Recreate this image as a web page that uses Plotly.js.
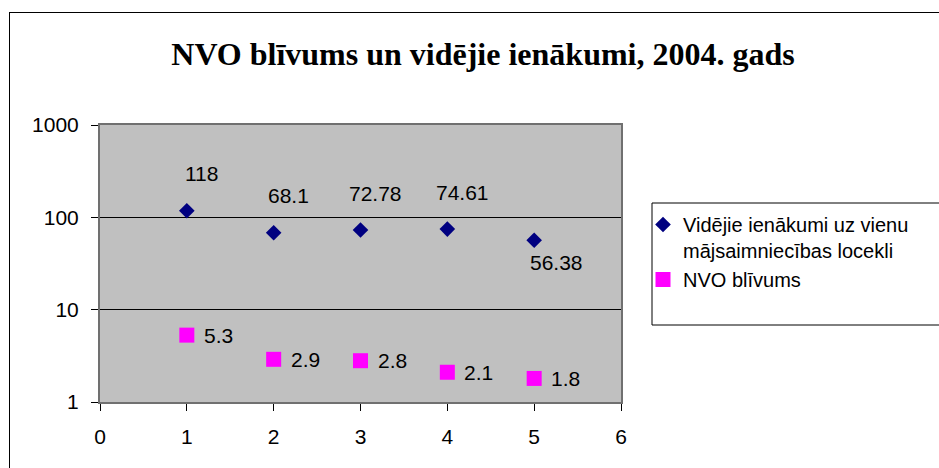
<!DOCTYPE html>
<html>
<head>
<meta charset="utf-8">
<script src="https://cdn.plot.ly/plotly-3.0.1.min.js"></script>
<style>
  html, body { margin: 0; padding: 0; background: #fff; overflow: hidden; }
  #chart { position: absolute; left: 0; top: 0; width: 939px; height: 468px; }
  #frame { position: absolute; left: 9px; top: 12px; width: 1000px; height: 1000px;
           border: 1px solid #000; pointer-events: none; }
</style>
</head>
<body>
<div id="chart"></div>
<div id="frame"></div>
<script>
// ---- data ----
const xValues = [1, 2, 3, 4, 5];
const incomeName = 'Vidējie ienākumi uz vienu<br>mājsaimniecības locekli';
const incomeValues = [118, 68.1, 72.78, 74.61, 56.38];
const ngoName = 'NVO blīvums';
const ngoValues = [5.3, 2.9, 2.8, 2.1, 1.8];
const xTicks = [0, 1, 2, 3, 4, 5, 6];
const yTicks = [1, 10, 100, 1000];
const yTickText = ['1', '10', '100', '1000'];
const chartTitle = 'NVO blīvums un vidējie ienākumi, 2004. gads';

const labelFont = { family: 'Liberation Sans, Arial, sans-serif', size: 21, color: '#000' };

const traces = [
  {
    type: 'scatter', mode: 'markers', name: incomeName,
    x: xValues, y: incomeValues,
    marker: { symbol: 'diamond', size: 12, color: '#000080' }
  },
  {
    type: 'scatter', mode: 'markers', name: ngoName,
    x: xValues, y: ngoValues,
    marker: { symbol: 'square', size: 15, color: '#FF00FF' }
  }
];

const annotations = [];
incomeValues.forEach((v, i) => {
  const below = i === incomeValues.length - 1;
  annotations.push({
    x: xValues[i], y: Math.log10(v), xref: 'x', yref: 'y',
    text: String(v), showarrow: false, font: labelFont,
    xanchor: 'center', yanchor: 'middle',
    xshift: below ? 22 : 15, yshift: below ? -22 : 37
  });
});
ngoValues.forEach((v, i) => {
  annotations.push({
    x: xValues[i], y: Math.log10(v), xref: 'x', yref: 'y',
    text: String(v), showarrow: false, font: labelFont,
    xanchor: 'left', yanchor: 'middle', xshift: 15, yshift: 0
  });
});

const L = 100, R = 621, T = 125, B = 402;
const W = 939, H = 468;
const pw = R - L, ph = B - T;
const px2x = p => (p - L) / pw;
const py2y = p => (B - p) / ph;

const layout = {
  width: W, height: H,
  margin: { l: L, r: W - R, t: T, b: H - B, pad: 0 },
  paper_bgcolor: 'rgba(0,0,0,0)',
  plot_bgcolor: '#C0C0C0',
  showlegend: true,
  title: {
    text: '<b>' + chartTitle + '</b>',
    font: { family: 'Liberation Serif, Times New Roman, serif', size: 32, color: '#000' },
    xref: 'container', yref: 'container',
    x: 483 / W, xanchor: 'center',
    y: 1 - 54 / H, yanchor: 'middle'
  },
  xaxis: {
    range: [0, 6], tickvals: xTicks, ticktext: xTicks.map(String),
    showgrid: false, zeroline: false,
    showline: true, linecolor: '#707070', linewidth: 2, mirror: true,
    ticks: 'outside', ticklen: 7, tickcolor: '#000', tickwidth: 1,
    ticklabelstandoff: 8,
    tickfont: labelFont, fixedrange: true
  },
  yaxis: {
    type: 'log', range: [0, 3], tickvals: yTicks, ticktext: yTickText,
    showgrid: true, gridcolor: '#000', gridwidth: 1, zeroline: false,
    showline: true, linecolor: '#707070', linewidth: 2, mirror: true,
    ticks: 'outside', ticklen: 7, tickcolor: '#000', tickwidth: 1,
    ticklabelstandoff: 8,
    tickfont: labelFont, fixedrange: true
  },
  legend: {
    x: px2x(643), y: py2y(205), xanchor: 'left', yanchor: 'top',
    xref: 'paper', yref: 'paper',
    bgcolor: 'rgba(0,0,0,0)', borderwidth: 0,
    valign: 'top',
    font: { family: 'Liberation Sans, Arial, sans-serif', size: 20, color: '#000' }
  },
  shapes: [
    {
      type: 'rect', xref: 'paper', yref: 'paper', layer: 'above',
      x0: px2x(652), x1: px2x(960), y0: py2y(325), y1: py2y(203),
      line: { color: '#000', width: 1 }, fillcolor: 'rgba(0,0,0,0)'
    }
  ],
  annotations: annotations
};

Plotly.newPlot('chart', traces, layout, { displayModeBar: false, staticPlot: true });
</script>
</body>
</html>
